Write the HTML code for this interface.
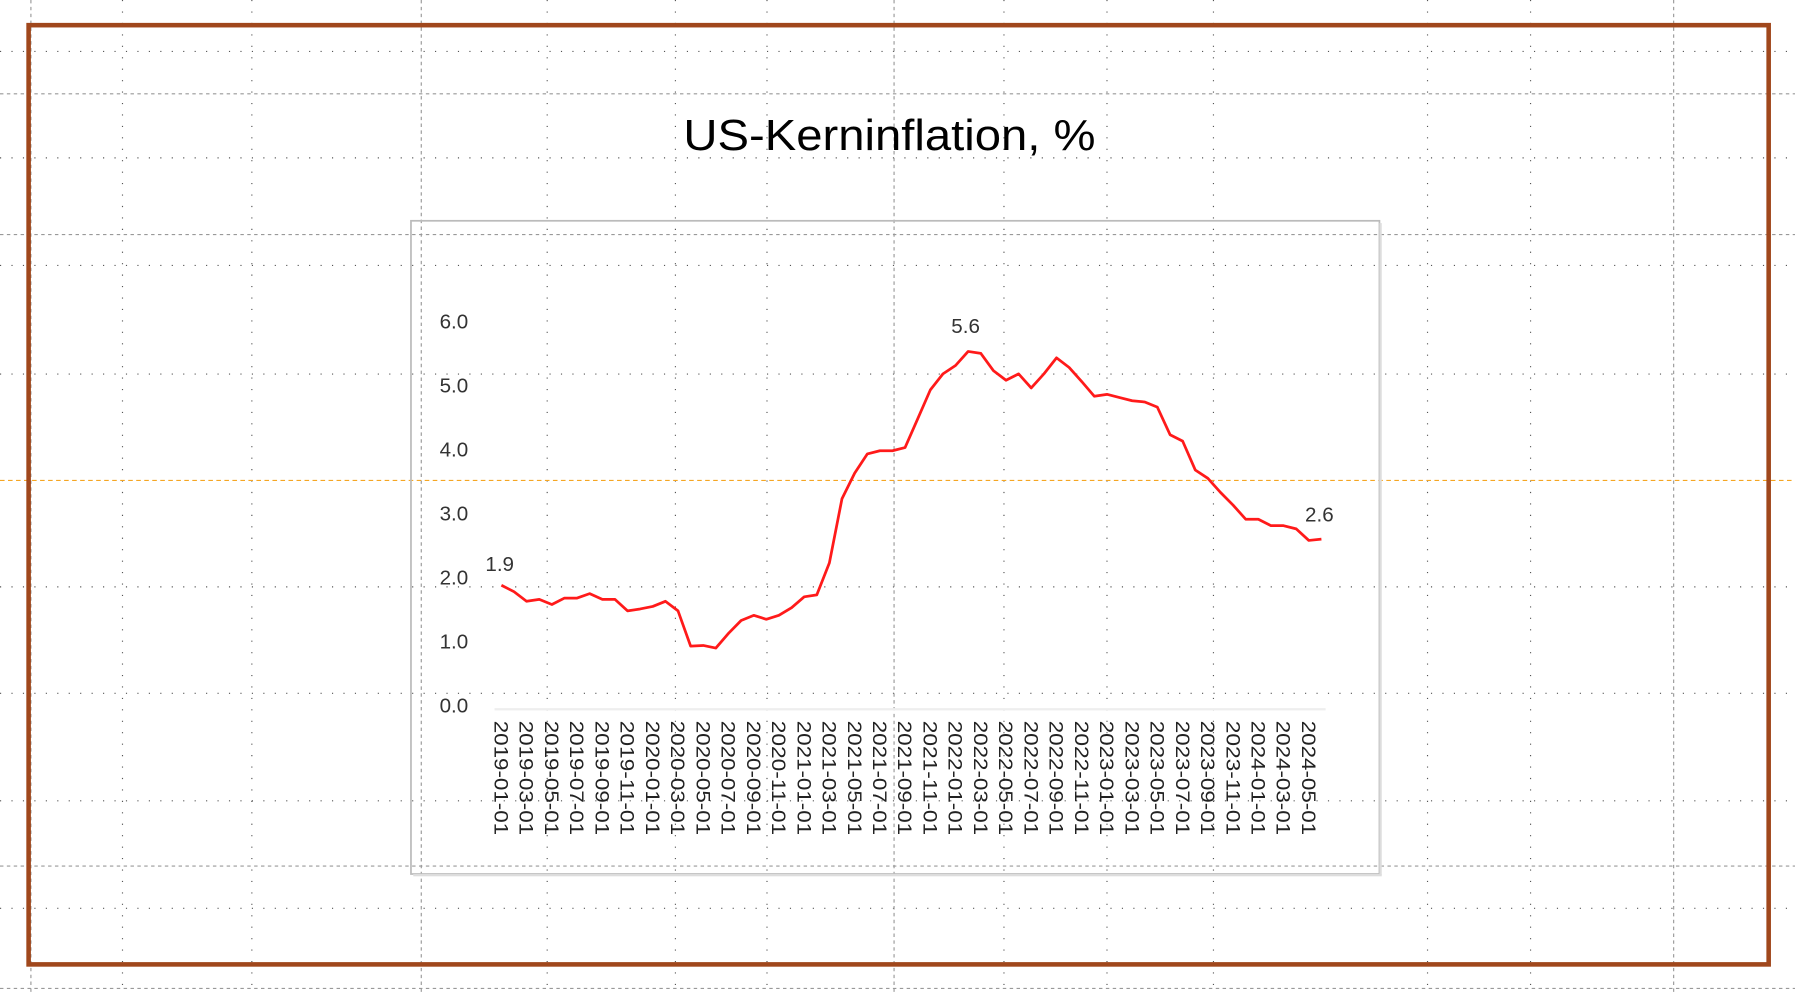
<!DOCTYPE html>
<html><head><meta charset="utf-8"><style>
html,body{margin:0;padding:0;background:#fff;}
svg{display:block;}
</style></head><body>
<svg width="1795" height="993" viewBox="0 0 1568 868" preserveAspectRatio="none" xmlns="http://www.w3.org/2000/svg">
<rect width="1568" height="868" fill="#fff"/>
<g stroke="#555" stroke-width="1" fill="none">
 <g stroke-dasharray="1,9">
  <line x1="107" y1="0" x2="107" y2="868"/><line x1="220" y1="0" x2="220" y2="868"/>
  <line x1="478" y1="0" x2="478" y2="868"/><line x1="590" y1="0" x2="590" y2="868"/>
  <line x1="670" y1="0" x2="670" y2="868"/><line x1="877" y1="0" x2="877" y2="868"/>
  <line x1="967" y1="0" x2="967" y2="868"/><line x1="1060" y1="0" x2="1060" y2="868"/>
  <line x1="1247" y1="0" x2="1247" y2="868"/><line x1="1337" y1="0" x2="1337" y2="868"/>
  <line x1="0" y1="45" x2="1568" y2="45"/><line x1="0" y1="138" x2="1568" y2="138"/>
  <line x1="0" y1="232" x2="1568" y2="232"/><line x1="0" y1="327" x2="1568" y2="327"/>
  <line x1="0" y1="513" x2="1568" y2="513"/><line x1="0" y1="606" x2="1568" y2="606"/>
  <line x1="0" y1="700" x2="1568" y2="700"/><line x1="0" y1="794" x2="1568" y2="794"/>
 </g>
 <g stroke="#999" stroke-dasharray="3,3">
  <line x1="27" y1="0" x2="27" y2="868"/><line x1="368" y1="0" x2="368" y2="868"/>
  <line x1="781" y1="0" x2="781" y2="868"/><line x1="1462" y1="0" x2="1462" y2="868"/>
  <line x1="0" y1="82" x2="1568" y2="82"/><line x1="0" y1="205" x2="1568" y2="205"/>
  <line x1="0" y1="757" x2="1568" y2="757"/><line x1="0" y1="864" x2="1568" y2="864"/>
 </g>
 <line x1="0" y1="420" x2="1568" y2="420" stroke="#f5a623" stroke-dasharray="4,3"/>
</g>
<rect x="25" y="22" width="1520" height="821" fill="none" stroke="#a0471c" stroke-width="4"/>
<text x="777" y="131" text-anchor="middle" font-family="Liberation Sans, sans-serif" font-size="38" fill="#000" textLength="360" lengthAdjust="spacingAndGlyphs">US-Kerninflation, %</text>
<rect x="359" y="193" width="846" height="571" fill="none" stroke="#bbb" stroke-width="1.5"/>
<rect x="361" y="764" width="846" height="2" fill="#ddd"/>
<rect x="1205" y="195" width="2" height="570" fill="#ddd"/>
<g font-family="Liberation Sans, sans-serif" font-size="18" fill="#333">
<text x="384" y="287">6.0</text><text x="384" y="343">5.0</text><text x="384" y="399">4.0</text>
<text x="384" y="455">3.0</text><text x="384" y="511">2.0</text><text x="384" y="567">1.0</text><text x="384" y="623">0.0</text>
<text x="424" y="499">1.9</text><text x="831" y="291">5.6</text><text x="1140" y="456">2.6</text>
</g>
<line x1="432" y1="620" x2="1158" y2="620" stroke="#eee" stroke-width="2"/>
<polyline fill="none" stroke="#ff1a1a" stroke-width="2.4" stroke-linejoin="round" points="438.0,511.6 449.0,517.2 460.0,525.6 471.1,523.9 482.1,528.4 493.1,522.8 504.1,522.8 515.1,518.9 526.2,523.9 537.2,523.9 548.2,534.0 559.2,532.3 570.2,530.1 581.3,525.6 592.3,534.0 603.3,564.8 614.3,564.2 625.3,566.5 636.4,553.6 647.4,542.4 658.4,537.9 669.4,541.3 680.4,537.9 691.5,531.2 702.5,521.7 713.5,520.0 724.5,492.0 735.5,436.0 746.6,413.6 757.6,396.8 768.6,394.0 779.6,394.0 790.6,391.2 801.7,366.0 812.7,340.8 823.7,326.8 834.7,319.5 845.7,307.2 856.8,308.9 867.8,324.0 878.8,332.4 889.8,326.8 900.8,339.1 911.9,326.8 922.9,312.8 933.9,321.2 944.9,333.5 955.9,346.4 967.0,344.7 978.0,347.5 989.0,350.3 1000.0,351.4 1011.0,355.9 1022.1,380.0 1033.1,385.6 1044.1,410.8 1055.1,418.1 1066.1,430.4 1077.2,441.6 1088.2,453.9 1099.2,453.9 1110.2,459.5 1121.2,459.5 1132.3,462.3 1143.3,472.4 1154.3,471.3"/>
<g font-family="Liberation Sans, sans-serif" font-size="17" fill="#222">
<text transform="translate(432,630) rotate(90)" textLength="100" lengthAdjust="spacingAndGlyphs">2019-01-01</text>
<text transform="translate(454,630) rotate(90)" textLength="100" lengthAdjust="spacingAndGlyphs">2019-03-01</text>
<text transform="translate(476.1,630) rotate(90)" textLength="100" lengthAdjust="spacingAndGlyphs">2019-05-01</text>
<text transform="translate(498.1,630) rotate(90)" textLength="100" lengthAdjust="spacingAndGlyphs">2019-07-01</text>
<text transform="translate(520.2,630) rotate(90)" textLength="100" lengthAdjust="spacingAndGlyphs">2019-09-01</text>
<text transform="translate(542.2,630) rotate(90)" textLength="100" lengthAdjust="spacingAndGlyphs">2019-11-01</text>
<text transform="translate(564.2,630) rotate(90)" textLength="100" lengthAdjust="spacingAndGlyphs">2020-01-01</text>
<text transform="translate(586.3,630) rotate(90)" textLength="100" lengthAdjust="spacingAndGlyphs">2020-03-01</text>
<text transform="translate(608.3,630) rotate(90)" textLength="100" lengthAdjust="spacingAndGlyphs">2020-05-01</text>
<text transform="translate(630.4,630) rotate(90)" textLength="100" lengthAdjust="spacingAndGlyphs">2020-07-01</text>
<text transform="translate(652.4,630) rotate(90)" textLength="100" lengthAdjust="spacingAndGlyphs">2020-09-01</text>
<text transform="translate(674.4,630) rotate(90)" textLength="100" lengthAdjust="spacingAndGlyphs">2020-11-01</text>
<text transform="translate(696.5,630) rotate(90)" textLength="100" lengthAdjust="spacingAndGlyphs">2021-01-01</text>
<text transform="translate(718.5,630) rotate(90)" textLength="100" lengthAdjust="spacingAndGlyphs">2021-03-01</text>
<text transform="translate(740.6,630) rotate(90)" textLength="100" lengthAdjust="spacingAndGlyphs">2021-05-01</text>
<text transform="translate(762.6,630) rotate(90)" textLength="100" lengthAdjust="spacingAndGlyphs">2021-07-01</text>
<text transform="translate(784.6,630) rotate(90)" textLength="100" lengthAdjust="spacingAndGlyphs">2021-09-01</text>
<text transform="translate(806.7,630) rotate(90)" textLength="100" lengthAdjust="spacingAndGlyphs">2021-11-01</text>
<text transform="translate(828.7,630) rotate(90)" textLength="100" lengthAdjust="spacingAndGlyphs">2022-01-01</text>
<text transform="translate(850.8,630) rotate(90)" textLength="100" lengthAdjust="spacingAndGlyphs">2022-03-01</text>
<text transform="translate(872.8,630) rotate(90)" textLength="100" lengthAdjust="spacingAndGlyphs">2022-05-01</text>
<text transform="translate(894.8,630) rotate(90)" textLength="100" lengthAdjust="spacingAndGlyphs">2022-07-01</text>
<text transform="translate(916.9,630) rotate(90)" textLength="100" lengthAdjust="spacingAndGlyphs">2022-09-01</text>
<text transform="translate(938.9,630) rotate(90)" textLength="100" lengthAdjust="spacingAndGlyphs">2022-11-01</text>
<text transform="translate(961,630) rotate(90)" textLength="100" lengthAdjust="spacingAndGlyphs">2023-01-01</text>
<text transform="translate(983,630) rotate(90)" textLength="100" lengthAdjust="spacingAndGlyphs">2023-03-01</text>
<text transform="translate(1005,630) rotate(90)" textLength="100" lengthAdjust="spacingAndGlyphs">2023-05-01</text>
<text transform="translate(1027.1,630) rotate(90)" textLength="100" lengthAdjust="spacingAndGlyphs">2023-07-01</text>
<text transform="translate(1049.1,630) rotate(90)" textLength="100" lengthAdjust="spacingAndGlyphs">2023-09-01</text>
<text transform="translate(1071.2,630) rotate(90)" textLength="100" lengthAdjust="spacingAndGlyphs">2023-11-01</text>
<text transform="translate(1093.2,630) rotate(90)" textLength="100" lengthAdjust="spacingAndGlyphs">2024-01-01</text>
<text transform="translate(1115.2,630) rotate(90)" textLength="100" lengthAdjust="spacingAndGlyphs">2024-03-01</text>
<text transform="translate(1137.3,630) rotate(90)" textLength="100" lengthAdjust="spacingAndGlyphs">2024-05-01</text>
</g>
</svg>
</body></html>
